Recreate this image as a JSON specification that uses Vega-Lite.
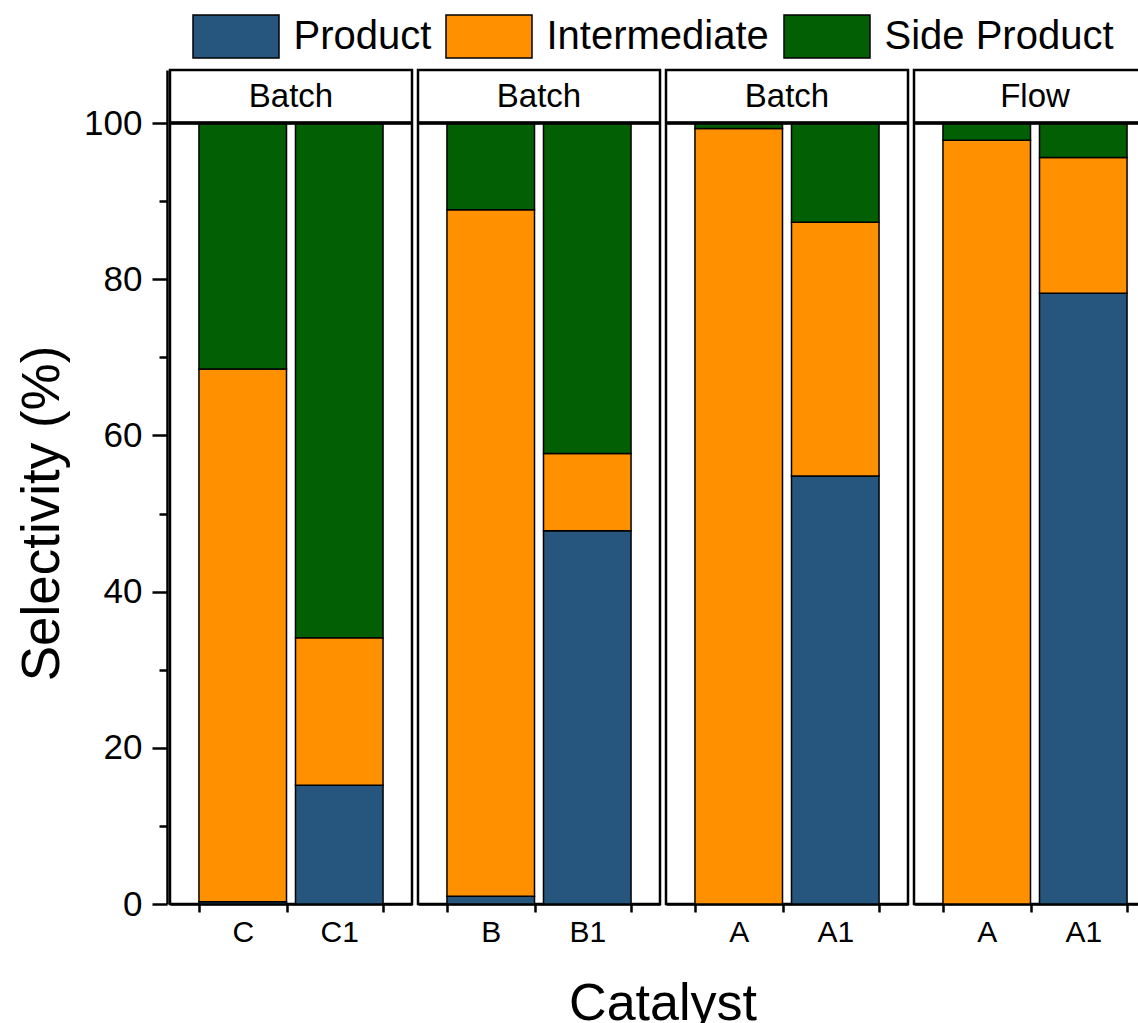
{
  "$schema": "https://vega.github.io/schema/vega-lite/v6.json",
  "padding": {"left": 16, "top": 14, "right": 0, "bottom": 0},
  "data": {"values": [
    {"panel": 1, "mode": "Batch", "catalyst": "C", "component": "Product", "value": 0.3},
    {"panel": 1, "mode": "Batch", "catalyst": "C", "component": "Intermediate", "value": 68.2},
    {"panel": 1, "mode": "Batch", "catalyst": "C", "component": "Side Product", "value": 31.5},
    {"panel": 1, "mode": "Batch", "catalyst": "C1", "component": "Product", "value": 15.2},
    {"panel": 1, "mode": "Batch", "catalyst": "C1", "component": "Intermediate", "value": 18.9},
    {"panel": 1, "mode": "Batch", "catalyst": "C1", "component": "Side Product", "value": 65.9},
    {"panel": 2, "mode": "Batch", "catalyst": "B", "component": "Product", "value": 1.0},
    {"panel": 2, "mode": "Batch", "catalyst": "B", "component": "Intermediate", "value": 87.9},
    {"panel": 2, "mode": "Batch", "catalyst": "B", "component": "Side Product", "value": 11.1},
    {"panel": 2, "mode": "Batch", "catalyst": "B1", "component": "Product", "value": 47.8},
    {"panel": 2, "mode": "Batch", "catalyst": "B1", "component": "Intermediate", "value": 9.9},
    {"panel": 2, "mode": "Batch", "catalyst": "B1", "component": "Side Product", "value": 42.3},
    {"panel": 3, "mode": "Batch", "catalyst": "A", "component": "Product", "value": 0.0},
    {"panel": 3, "mode": "Batch", "catalyst": "A", "component": "Intermediate", "value": 99.3},
    {"panel": 3, "mode": "Batch", "catalyst": "A", "component": "Side Product", "value": 0.7},
    {"panel": 3, "mode": "Batch", "catalyst": "A1", "component": "Product", "value": 54.8},
    {"panel": 3, "mode": "Batch", "catalyst": "A1", "component": "Intermediate", "value": 32.5},
    {"panel": 3, "mode": "Batch", "catalyst": "A1", "component": "Side Product", "value": 12.7},
    {"panel": 4, "mode": "Flow", "catalyst": "A", "component": "Product", "value": 0.0},
    {"panel": 4, "mode": "Flow", "catalyst": "A", "component": "Intermediate", "value": 97.8},
    {"panel": 4, "mode": "Flow", "catalyst": "A", "component": "Side Product", "value": 2.2},
    {"panel": 4, "mode": "Flow", "catalyst": "A1", "component": "Product", "value": 78.2},
    {"panel": 4, "mode": "Flow", "catalyst": "A1", "component": "Intermediate", "value": 17.4},
    {"panel": 4, "mode": "Flow", "catalyst": "A1", "component": "Side Product", "value": 4.4}
  ]},
  "facet": {
    "column": {
      "field": "panel", "type": "ordinal", "title": "Catalyst",
      "header": {"labels": false, "titleOrient": "bottom", "titleFontSize": 52, "titleFontWeight": "normal", "titleColor": "black", "titleFont": "Liberation Sans", "titlePadding": 20}
    }
  },
  "spacing": 0,
  "resolve": {"scale": {"x": "independent"}},
  "spec": {
    "width": 242,
    "height": 834,
    "layer": [
      {
        "transform": [{"calculate": "indexof(['Product', 'Intermediate', 'Side Product'], datum.component)", "as": "stackOrder"}],
        "mark": {"type": "bar", "stroke": "black", "strokeWidth": 1.5},
        "encoding": {
          "x": {"field": "catalyst", "type": "nominal",
            "scale": {"paddingInner": 0.093, "paddingOuter": 0.3},
            "axis": {"title": null, "labelFontSize": 30, "labelAngle": 0, "tickSize": 8, "tickBand": "extent", "labelPadding": 5}},
          "y": {"field": "value", "type": "quantitative", "stack": "zero",
            "scale": {"domain": [0, 106.8], "nice": false},
            "axis": {"title": "Selectivity (%)", "values": [0,10,20,30,40,50,60,70,80,90,100],
              "labelExpr": "datum.value % 20 === 0 ? datum.label : ''",
              "tickSize": {"condition": {"test": "datum.value % 20 === 0", "value": 15}, "value": 8},
              "labelFontSize": 35, "labelPadding": 10, "titleFontSize": 53, "titlePadding": 14, "titleY": 443}},
          "order": {"field": "stackOrder", "type": "quantitative", "sort": "ascending"},
          "color": {"field": "component", "type": "nominal",
            "sort": ["Product", "Intermediate", "Side Product"],
            "scale": {"domain": ["Product", "Intermediate", "Side Product"], "range": ["#26567D", "#FF9000", "#035F04"]},
            "legend": {"orient": "none", "legendX": 43.5, "legendY": -56, "direction": "horizontal", "title": null,
              "symbolType": "M-2,-1H2V1H-2Z", "symbolSize": 1849,
              "symbolStrokeColor": "black", "symbolStrokeWidth": 1.5,
              "labelFontSize": 40, "labelOffset": 35, "columnPadding": 11,
              "labelColor": "black", "labelLimit": 0}}
        }
      },
      {
        "mark": {"type": "rule", "strokeWidth": 2.5, "color": "black"},
        "encoding": {"y": {"datum": 100}}
      },
      {
        "transform": [{"aggregate": [{"op": "count", "as": "n"}], "groupby": ["panel", "mode"]}],
        "mark": {"type": "text", "fontSize": 33, "font": "Liberation Sans", "baseline": "middle", "color": "black"},
        "encoding": {"y": {"datum": 103.4}, "text": {"field": "mode"}}
      }
    ]
  },
  "config": {
    "font": "Liberation Sans",
    "view": {"stroke": "black", "strokeWidth": 2.5},
    "axis": {"domainColor": "black", "domainWidth": 2.5, "tickColor": "black", "tickWidth": 2.5,
      "labelColor": "black", "titleColor": "black", "grid": false,
      "labelFont": "Liberation Sans", "titleFont": "Liberation Sans", "titleFontWeight": "normal"}
  }
}
